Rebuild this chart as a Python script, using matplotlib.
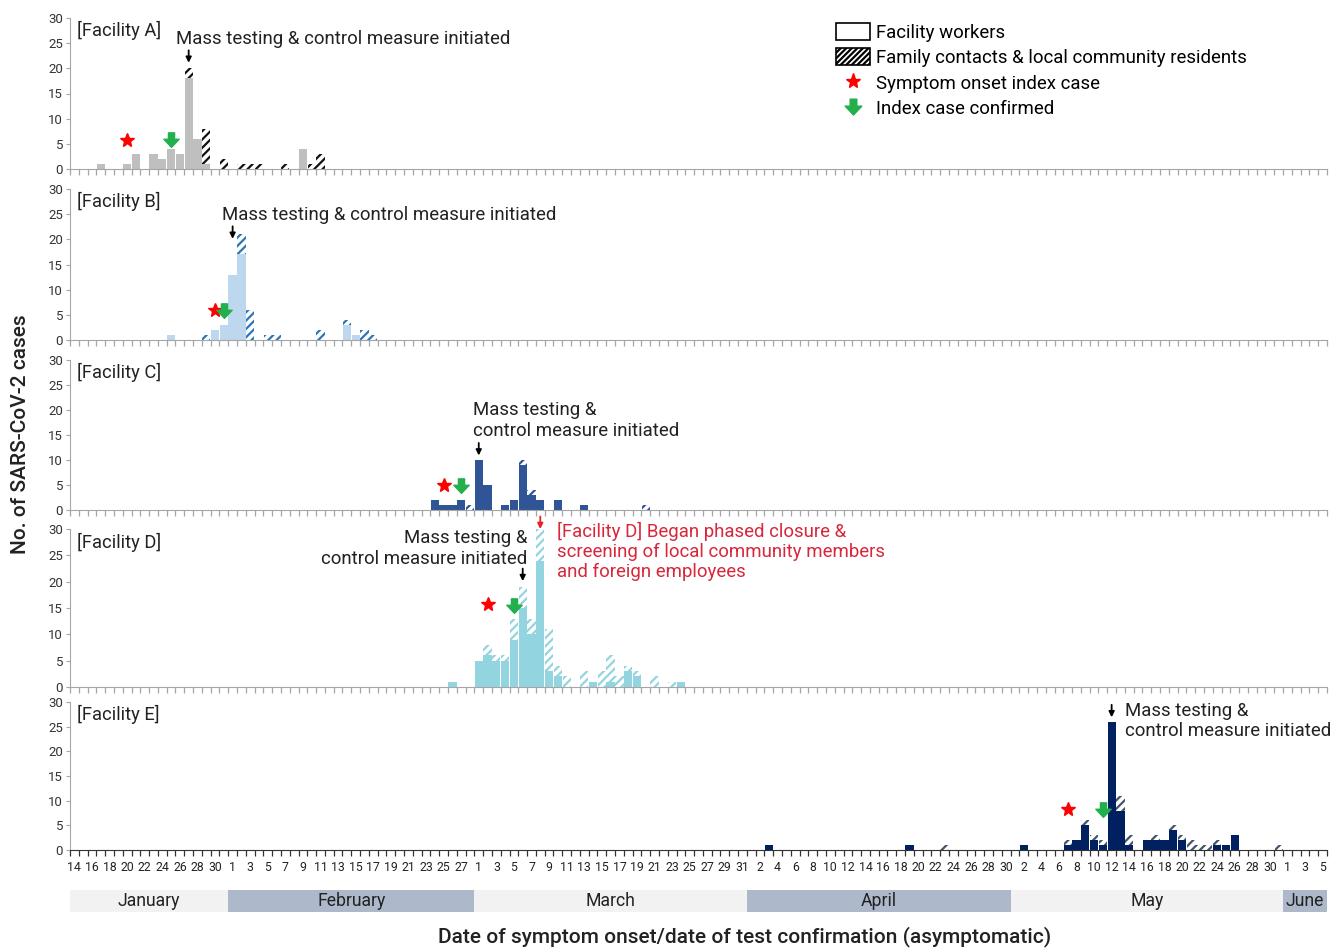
import numpy as np
import pandas as pd
import matplotlib
matplotlib.use('Agg')
import matplotlib.pyplot as plt
from matplotlib.patches import Patch
from matplotlib.lines import Line2D
from matplotlib.path import Path

plt.rcParams['font.family'] = ['Roboto', 'DejaVu Sans']
plt.rcParams['hatch.linewidth'] = 1.6

# daily categories, Jan 14 -> Jun 5
days = pd.date_range('2021-01-14', '2021-06-05', freq='D')
day_idx = {d.strftime('%m-%d'): i for i, d in enumerate(days)}

# ---- case counts (facility workers / family contacts & community) ----
a_dates = ['01-17', '01-20', '01-21', '01-23', '01-24', '01-25', '01-26', '01-27', '01-28',
           '01-29', '01-31', '02-02', '02-03', '02-04', '02-07', '02-09', '02-10', '02-11']
a_workers = [1, 1, 3, 3, 2, 4, 3, 18, 6, 1, 0, 0, 0, 0, 0, 4, 0, 0]
a_contacts = [0, 0, 0, 0, 0, 0, 0, 2, 0, 7, 2, 1, 1, 1, 1, 0, 1, 3]

b_dates = ['01-25', '01-29', '01-30', '01-31', '02-01', '02-02', '02-03', '02-05', '02-06',
           '02-11', '02-14', '02-15', '02-16', '02-17']
b_workers = [1, 0, 2, 3, 13, 17, 0, 0, 0, 0, 3, 1, 0, 0]
b_contacts = [0, 1, 0, 0, 0, 4, 6, 1, 1, 2, 1, 0, 2, 1]

c_dates = ['02-24', '02-25', '02-26', '02-27', '02-28', '03-01', '03-02', '03-04', '03-05',
           '03-06', '03-07', '03-08', '03-10', '03-13', '03-20']
c_workers = [2, 1, 1, 2, 0, 10, 5, 1, 2, 9, 3, 2, 2, 1, 0]
c_contacts = [0, 0, 0, 0, 1, 0, 0, 0, 0, 1, 1, 0, 0, 0, 1]

d_dates = ['02-26', '03-01', '03-02', '03-03', '03-04', '03-05', '03-06', '03-07', '03-08',
           '03-09', '03-10', '03-11', '03-13', '03-14', '03-15', '03-16', '03-17', '03-18',
           '03-19', '03-21', '03-23', '03-24']
d_workers = [1, 5, 6, 5, 5, 9, 15, 10, 24, 3, 2, 0, 0, 1, 0, 1, 0, 3, 2, 0, 0, 1]
d_contacts = [0, 0, 2, 1, 1, 4, 4, 3, 6, 8, 2, 2, 3, 0, 3, 5, 2, 1, 1, 2, 1, 0]

e_dates = ['04-03', '04-19', '04-23', '05-02', '05-07', '05-08', '05-09', '05-10', '05-11',
           '05-12', '05-13', '05-14', '05-16', '05-17', '05-18', '05-19', '05-20', '05-21',
           '05-22', '05-23', '05-24', '05-25', '05-26', '05-31']
e_workers = [1, 1, 0, 1, 1, 2, 5, 2, 1, 26, 8, 1, 2, 2, 2, 4, 2, 0, 0, 0, 1, 1, 3, 0]
e_contacts = [0, 0, 1, 0, 1, 0, 1, 1, 1, 0, 3, 2, 0, 1, 0, 1, 1, 2, 1, 1, 1, 0, 0, 1]

facilities = ['[Facility A]', '[Facility B]', '[Facility C]', '[Facility D]', '[Facility E]']

# events: symptom onset of index case, index case confirmed, mass testing
star_dates = ['01-20', '01-30', '02-25', '03-02', '05-07']
star_y = [5.8, 5.9, 5.0, 15.7, 8.3]
conf_dates = ['01-25', '01-31', '02-27', '03-05', '05-11']
conf_y = [5.8, 5.7, 4.9, 15.4, 8.2]
mass_dates = ['01-27', '02-01', '03-01', '03-06', '05-12']
mass_tip = [21.1, 20.1, 10.9, 20.1, 26.9]
closure_date = '03-08'

months = ['January', 'February', 'March', 'April', 'May', 'June']

# styling
solid_colors = ['#bfbfbf', '#bdd7ee', '#2f5597', '#92d4df', '#002060']
hatch_colors = ['#111111', '#2e75b6', '#2f5597', '#92d4df', '#44546a']
panel_px = [(18, 169), (189, 340), (360, 510), (529, 687), (702, 850)]
W, H = 1331, 948
x0, x1 = 70, 1327
FS = 13.4

data = [(a_dates, a_workers, a_contacts), (b_dates, b_workers, b_contacts),
        (c_dates, c_workers, c_contacts), (d_dates, d_workers, d_contacts),
        (e_dates, e_workers, e_contacts)]

arrow_verts = [(-0.2, 0.5), (0.2, 0.5), (0.2, 0.08), (0.5, 0.08), (0, -0.45),
               (-0.5, 0.08), (-0.2, 0.08), (-0.2, 0.5)]
green_arrow = Path(arrow_verts, [Path.MOVETO] + [Path.LINETO] * 6 + [Path.CLOSEPOLY])

fig = plt.figure(figsize=(W / 100, H / 100), dpi=100)
n = len(days)
axes = []
for k, (top, bot) in enumerate(panel_px):
    ax = fig.add_axes([x0 / W, 1 - bot / H, (x1 - x0) / W, (bot - top) / H])
    axes.append(ax)
    dates, workers, contacts = data[k]
    xs = [day_idx[d] for d in dates]
    ax.bar(xs, workers, width=0.94, color=solid_colors[k], linewidth=0)
    ax.bar(xs, contacts, bottom=workers, width=0.94, facecolor='white',
           edgecolor=hatch_colors[k], hatch='////', linewidth=0)
    ax.set_xlim(-0.5, n - 0.5)
    ax.set_ylim(0, 30)
    ax.set_yticks(range(0, 31, 5))
    ax.set_xticks(np.arange(-0.5, n, 1.0))
    ax.set_xticklabels([])
    spine_col = '#333333' if k == 4 else '#a6a6a6'
    ax.tick_params(axis='x', length=4, width=0.9, color=spine_col)
    ax.tick_params(axis='y', length=3, width=0.8, color='#a6a6a6', labelsize=9.5,
                   labelcolor='#333333', pad=2)
    for s in ['top', 'right']:
        ax.spines[s].set_visible(False)
    ax.spines['left'].set_color('#a6a6a6')
    ax.spines['bottom'].set_color(spine_col)
    ax.text(0.0056, 0.915, facilities[k], transform=ax.transAxes, ha='left', va='center',
            fontsize=13.2, color='#222222')

    ax.plot(day_idx[star_dates[k]], star_y[k], marker='*', color='#ff0000',
            markersize=10.5, linestyle='none', clip_on=False)
    ax.plot(day_idx[conf_dates[k]], conf_y[k], marker=green_arrow, color='#21b04b',
            markersize=11, linestyle='none', clip_on=False)
    ax.annotate('', xy=(day_idx[mass_dates[k]], mass_tip[k]), xytext=(0, 9),
                textcoords='offset points', annotation_clip=False,
                arrowprops=dict(arrowstyle='-|>', color='black', lw=1.3, mutation_scale=8,
                                shrinkA=0, shrinkB=0))

# bottom tick labels (every other day)
lab_ax = axes[-1]
lab_ax.set_xticks(np.arange(0, n, 2), minor=True)
lab_ax.set_xticklabels([str(days[i].day) for i in range(0, n, 2)], minor=True)
lab_ax.tick_params(axis='x', which='minor', length=0, pad=8, labelsize=8.8,
                   labelcolor='#222222')

# annotation texts
txt = dict(fontsize=FS, color='#222222', linespacing=1.15)
axes[0].text(11.6, 25.8, 'Mass testing & control measure initiated', ha='left', va='center', **txt)
axes[1].text(16.75, 24.8, 'Mass testing & control measure initiated', ha='left', va='center', **txt)
axes[2].text(45.4, 17.9, 'Mass testing &\ncontrol measure initiated', ha='left', va='center', **txt)
axes[3].text(51.5, 26.3, 'Mass testing &\ncontrol measure initiated', ha='right', va='center', **txt)
axes[3].text(54.9, 25.7, '[Facility D] Began phased closure &\nscreening of local community members\n'
             'and foreign employees', ha='left', va='center', fontsize=FS, color='#d9263a',
             linespacing=1.15)
axes[3].annotate('', xy=(day_idx[closure_date], 30.0), xytext=(0, 9), textcoords='offset points',
                 annotation_clip=False,
                 arrowprops=dict(arrowstyle='-|>', color='#e8202a', lw=1.3, mutation_scale=8,
                                 shrinkA=0, shrinkB=0))
axes[4].text(119.5, 26.1, 'Mass testing &\ncontrol measure initiated', ha='left', va='center', **txt)

# legend
handles = [Patch(facecolor='white', edgecolor='black', linewidth=1.2),
           Patch(facecolor='white', edgecolor='black', hatch='//////', linewidth=1.2),
           Line2D([], [], marker='*', color='#ff0000', markersize=11, linestyle='none'),
           Line2D([], [], marker=green_arrow, color='#21b04b', markersize=12, linestyle='none')]
labels = ['Facility workers', 'Family contacts & local community residents',
          'Symptom onset index case', 'Index case confirmed']
fig.legend(handles, labels, loc='upper left', bbox_to_anchor=(836 / W, 1 - 23 / H),
           frameon=False, fontsize=FS, handlelength=1.85, handleheight=1.0,
           handletextpad=0.3, labelspacing=0.36, borderpad=0, borderaxespad=0)

# month band
max_ = fig.add_axes([x0 / W, 1 - 912 / H, (x1 - x0) / W, 22 / H])
band_cols = ['#f2f2f2', '#adb9ca']
for m_i, m in enumerate(months):
    idxs = [i for i, d in enumerate(days) if d.month == m_i + 1]
    max_.axvspan(idxs[0] - 0.5, idxs[-1] + 0.5, color=band_cols[m_i % 2], linewidth=0)
    max_.text((idxs[0] + idxs[-1]) / 2, 0.5, m, ha='center', va='center', fontsize=12.7,
              color='#222222')
max_.set_xlim(-0.5, n - 0.5)
max_.set_ylim(0, 1)
max_.axis('off')

fig.text(21 / W, 1 - 434 / H, 'No. of SARS-CoV-2 cases', rotation=90, ha='center', va='center',
         fontsize=15, fontweight='medium', color='#222222')
fig.text(745 / W, 1 - 937 / H, 'Date of symptom onset/date of test confirmation (asymptomatic)',
         ha='center', va='center', fontsize=15, fontweight='medium', color='#222222')

fig.savefig('out.png', dpi=100)
